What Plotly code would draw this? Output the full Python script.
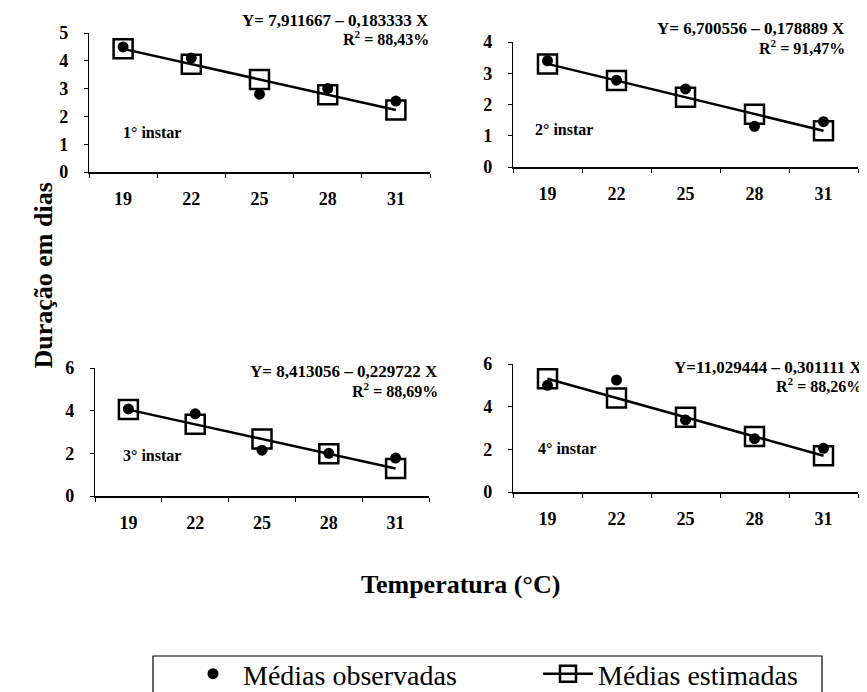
import plotly.graph_objects as go

temps = ["19", "22", "25", "28", "31"]

obs_1 = [4.5, 4.1, 2.8, 3.0, 2.55]
est_1 = [4.43, 3.88, 3.33, 2.78, 2.23]
obs_2 = [3.4, 2.78, 2.5, 1.3, 1.45]
est_2 = [3.30, 2.77, 2.23, 1.69, 1.16]
obs_3 = [4.08, 3.85, 2.15, 2.0, 1.78]
est_3 = [4.05, 3.36, 2.67, 1.98, 1.29]
obs_4 = [5.0, 5.25, 3.38, 2.5, 2.05]
est_4 = [5.31, 4.41, 3.50, 2.60, 1.70]

equations = [
    ("Y= 7,911667 – 0,183333 X", "R<sup>2</sup> = 88,43%"),
    ("Y= 6,700556 – 0,178889 X", "R<sup>2</sup> = 91,47%"),
    ("Y= 8,413056 – 0,229722 X", "R<sup>2</sup> = 88,69%"),
    ("Y=11,029444 – 0,301111 X", "R<sup>2</sup> = 88,26%"),
]
instars = ["1° instar", "2° instar", "3° instar", "4° instar"]
y_max = [5, 4, 6, 6]
y_dtick = [1, 1, 2, 2]

# the page body has an 8px margin: work in window pixels and shift
OFF = 8
WIN_W, WIN_H = 867, 692
W, H = WIN_W - OFF, WIN_H - OFF


def px(x):
    return (x - OFF) / W


def py(y):
    return 1 - (y - OFF) / H


# panel pixel boxes (window coords): left, right, top, bottom
boxes = [
    (89, 430, 33, 172),
    (513, 858, 42, 167),
    (95, 429, 368, 496),
    (513, 858, 364, 492),
]

FONT = "Liberation Serif"
fig = go.Figure()
obs_all = [obs_1, obs_2, obs_3, obs_4]
est_all = [est_1, est_2, est_3, est_4]

for i in range(4):
    sx = "" if i == 0 else str(i + 1)
    fig.add_trace(go.Scatter(
        x=temps, y=est_all[i], mode="lines+markers",
        line=dict(color="black", width=2.5),
        marker=dict(symbol="square-open", size=19, color="black", line=dict(width=2.5)),
        name="Médias estimadas", showlegend=(i == 0), legendrank=2,
        xaxis="x" + sx, yaxis="y" + sx,
    ))
    fig.add_trace(go.Scatter(
        x=temps, y=obs_all[i], mode="markers",
        marker=dict(symbol="circle", size=11, color="black"),
        name="Médias observadas", showlegend=(i == 0), legendrank=1,
        xaxis="x" + sx, yaxis="y" + sx,
    ))
    l, r, t, b = boxes[i]
    fig.layout["xaxis" + sx] = dict(
        domain=[px(l), min(px(r), 1)], anchor="y" + sx, type="category",
        range=[-0.5, 4.5], tickson="boundaries",
        ticks="outside", ticklen=4, tickcolor="black",
        showline=True, linecolor="black", linewidth=1.5,
        showgrid=False, zeroline=False, ticklabelstandoff=10,
        tickfont=dict(family=FONT, size=18, color="black", weight="bold"),
    )
    fig.layout["yaxis" + sx] = dict(
        domain=[py(b), py(t)], anchor="x" + sx, range=[0, y_max[i]], dtick=y_dtick[i],
        ticks="outside", ticklen=4, tickcolor="black",
        showline=True, linecolor="black", linewidth=1.2,
        showgrid=False, zeroline=False, ticklabelstandoff=12,
        tickfont=dict(family=FONT, size=18, color="black", weight="bold"),
    )

eq_pos = [(431, 20, 38), (847, 29, 47), (440, 371, 390), (864, 367, 385)]
inst_pos = [(121, 132), (533, 130), (121, 455), (536, 448)]
for i in range(4):
    xr, y1, y2 = eq_pos[i]
    fig.add_annotation(x=px(xr), y=py(y1), xref="paper", yref="paper",
                       xanchor="right", yanchor="middle", showarrow=False,
                       text=equations[i][0],
                       font=dict(family=FONT, size=17, color="black", weight="bold"))
    fig.add_annotation(x=px(xr), y=py(y2), xref="paper", yref="paper",
                       xanchor="right", yanchor="middle", showarrow=False,
                       text=equations[i][1],
                       font=dict(family=FONT, size=16, color="black", weight="bold"))
    xi, yi = inst_pos[i]
    fig.add_annotation(x=px(xi), y=py(yi), xref="paper", yref="paper",
                       xanchor="left", yanchor="middle", showarrow=False,
                       text=instars[i],
                       font=dict(family=FONT, size=16, color="black", weight="bold"))

fig.add_annotation(x=px(26), y=py(276), xref="paper", yref="paper",
                   textangle=-90, showarrow=False, text="Duração em dias",
                   font=dict(family=FONT, size=26, color="black", weight="bold"))
fig.add_annotation(x=px(460), y=py(601), xref="paper", yref="paper",
                   showarrow=False, text="Temperatura (°C)",
                   font=dict(family=FONT, size=26, color="black", weight="bold"))

# legend frame (bottom edge falls outside the picture)
bx0, bx1, by0 = 153, 822, 656
fig.add_shape(type="path", xref="paper", yref="paper",
              path=f"M {px(bx0)},{py(710)} L {px(bx0)},{py(by0)} "
                   f"L {px(bx1)},{py(by0)} L {px(bx1)},{py(710)}",
              line=dict(color="black", width=1.2))

fig.update_layout(
    width=W, height=H, margin=dict(l=0, r=0, t=0, b=0, autoexpand=False),
    paper_bgcolor="white", plot_bgcolor="white",
    showlegend=True,
    legend=dict(orientation="h", x=px(183), xanchor="left",
                y=py(674), yanchor="middle",
                borderwidth=0, bgcolor="rgba(0,0,0,0)",
                font=dict(family=FONT, size=28, color="black"),
                traceorder="normal", entrywidth=290, itemwidth=50),
)
fig.write_html("out.html")
